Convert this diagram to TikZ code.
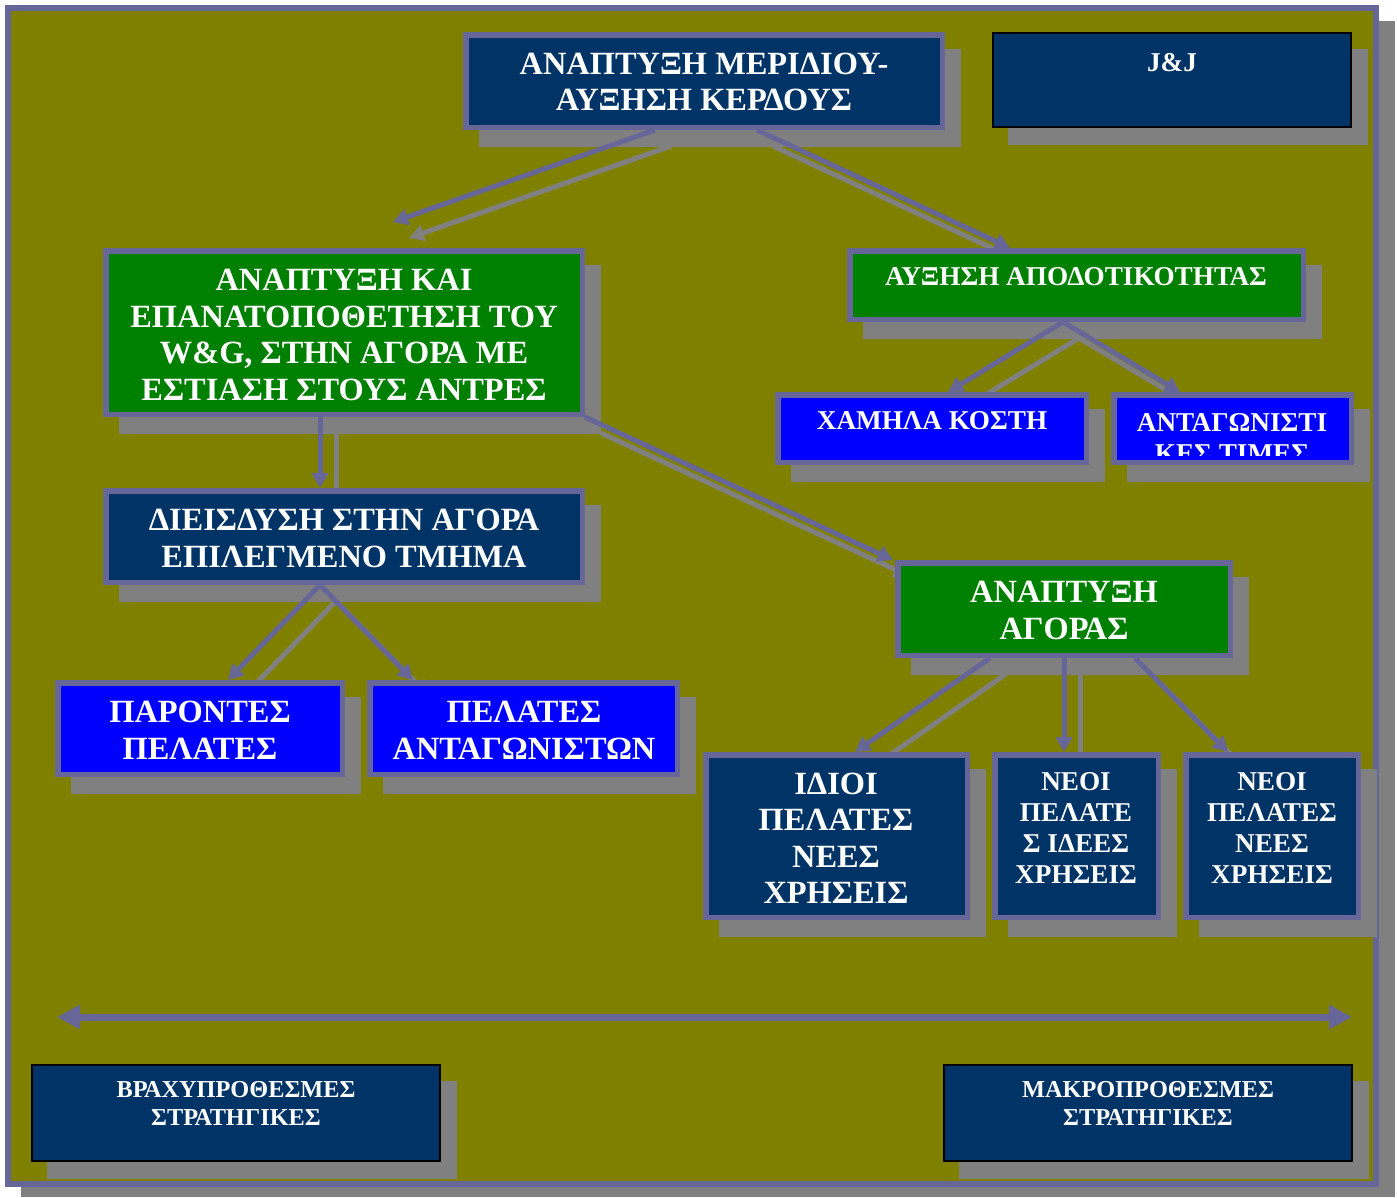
\documentclass[tikz,border=0pt]{standalone}
\usepackage{fontspec}
\setmainfont{Liberation Serif}
\usetikzlibrary{arrows.meta}

\definecolor{olivebg}{HTML}{808000}
\definecolor{navy}{HTML}{003366}
\definecolor{leaf}{HTML}{008000}
\definecolor{royal}{HTML}{0000FF}
\definecolor{lilac}{HTML}{666699}
\definecolor{dropgray}{HTML}{808080}

\pgfdeclarelayer{frame}
\pgfdeclarelayer{shadows}
\pgfdeclarelayer{links}
\pgfsetlayers{frame,shadows,links,main}

\tikzset{
  boxbase/.style={rectangle, inner sep=0pt, line width=5.5pt, draw=lilac},
  navybox/.style={boxbase, fill=navy},
  greenbox/.style={boxbase, fill=leaf},
  bluebox/.style={boxbase, fill=royal},
  plainbox/.style={rectangle, inner sep=0pt, line width=2pt, draw=black, fill=navy},
  bigtxt/.style={text=white, align=center, inner sep=0pt, font=\fontsize{32.4}{36.5}\selectfont\bfseries},
  midtxt/.style={text=white, align=center, inner sep=0pt, font=\fontsize{27.2}{31}\selectfont\bfseries},
  smalltxt/.style={text=white, align=center, inner sep=0pt, font=\fontsize{24.3}{28}\selectfont\bfseries},
  linkmain/.style={draw=lilac, line width=5pt, -{Triangle[length=15pt,width=16pt]}},
  linkshadow/.style={draw=dropgray, line width=5pt, -{Triangle[length=15pt,width=16pt]},
    transform canvas={xshift=16pt,yshift=-16pt}},
  spanarrow/.style={draw=lilac, line width=7pt,
    {Triangle[length=23pt,width=23pt]}-{Triangle[length=23pt,width=23pt]}},
}

% #1 name, #2 style, #3..#6 outer edges x1,y1,x2,y2, #7 border width
\newcommand\mkpanel[7]{%
  \begin{pgfonlayer}{shadows}
    \fill[dropgray] (#3+16,#4+17) rectangle (#5+16,#6+17);
  \end{pgfonlayer}
  \node[#2, minimum width={#5-#3-#7}, minimum height={#6-#4-#7}] (#1)
    at ({(#3+#5)/2},{(#4+#6)/2}) {};%
}

% connector with its drop shadow
\newcommand\joinboxes[2]{%
  \begin{pgfonlayer}{shadows}\draw[linkshadow] #1 -- #2;\end{pgfonlayer}%
  \begin{pgfonlayer}{links}\draw[linkmain] #1 -- #2;\end{pgfonlayer}%
}

\begin{document}
\begin{tikzpicture}[x=1pt,y=-1pt]
\useasboundingbox (0,0) rectangle (1397,1197);

% outer panel
\begin{pgfonlayer}{frame}
  \fill[dropgray] (21,21) rectangle (1395,1197);
  \draw[lilac, line width=6pt, fill=olivebg] (8,8) rectangle (1376,1184);
\end{pgfonlayer}

% boxes
\mkpanel{top}{navybox}{463}{32}{945}{130}{5.5}
\mkpanel{jj}{plainbox}{992}{32}{1352}{128}{2}
\mkpanel{g1}{greenbox}{103}{248}{585}{417}{5.5}
\mkpanel{g2}{greenbox}{847}{248}{1306}{322}{5.5}
\mkpanel{b1}{bluebox}{775}{392}{1089}{465}{5.5}
\mkpanel{b2}{bluebox}{1111}{392}{1354}{465}{5.5}
\mkpanel{n1}{navybox}{103}{488}{585}{585}{5.5}
\mkpanel{g3}{greenbox}{895}{560}{1233}{658}{5.5}
\mkpanel{b3}{bluebox}{55}{680}{345}{777}{5.5}
\mkpanel{b4}{bluebox}{367}{680}{680}{777}{5.5}
\mkpanel{n2}{navybox}{703}{752}{970}{920}{5.5}
\mkpanel{n3}{navybox}{992}{752}{1161}{920}{5.5}
\mkpanel{n4}{navybox}{1183}{752}{1361}{920}{5.5}
\mkpanel{s1}{plainbox}{31}{1064}{441}{1162}{2}
\mkpanel{s2}{plainbox}{943}{1064}{1353}{1162}{2}

% labels
\node[bigtxt] (top-t) at (704,82) {ΑΝΑΠΤΥΞΗ ΜΕΡΙΔΙΟΥ-\\ΑΥΞΗΣΗ ΚΕΡΔΟΥΣ};
\node[midtxt] (jj-t) at (1172,63) {J\&J};
\node[bigtxt] (g1-t) at (344,335) {ΑΝΑΠΤΥΞΗ ΚΑΙ\\ΕΠΑΝΑΤΟΠΟΘΕΤΗΣΗ ΤΟΥ\\W\&G, ΣΤΗΝ ΑΓΟΡΑ ΜΕ\\ΕΣΤΙΑΣΗ ΣΤΟΥΣ ΑΝΤΡΕΣ};
\node[midtxt] (g2-t) at (1076,277) {ΑΥΞΗΣΗ ΑΠΟΔΟΤΙΚΟΤΗΤΑΣ};
\node[midtxt] (b1-t) at (932,421) {ΧΑΜΗΛΑ ΚΟΣΤΗ};
\begin{scope}
  % the second line runs past the text area and is cut off
  \clip ([xshift=5.5pt,yshift=-5.5pt]b2.north west) rectangle ([xshift=-5.5pt,yshift=10pt]b2.south east);
  \node[midtxt] (b2-t) at (1232,438) {ΑΝΤΑΓΩΝΙΣΤΙ\\ΚΕΣ ΤΙΜΕΣ};
\end{scope}
\node[bigtxt] (n1-t) at (344,538.5) {ΔΙΕΙΣΔΥΣΗ ΣΤΗΝ ΑΓΟΡΑ\\ΕΠΙΛΕΓΜΕΝΟ ΤΜΗΜΑ};
\node[bigtxt] (g3-t) at (1064,610.5) {ΑΝΑΠΤΥΞΗ\\ΑΓΟΡΑΣ};
\node[bigtxt] (b3-t) at (200,730.5) {ΠΑΡΟΝΤΕΣ\\ΠΕΛΑΤΕΣ};
\node[bigtxt] (b4-t) at (524,730.5) {ΠΕΛΑΤΕΣ\\ΑΝΤΑΓΩΝΙΣΤΩΝ};
\node[bigtxt] (n2-t) at (836,838.5) {ΙΔΙΟΙ\\ΠΕΛΑΤΕΣ\\ΝΕΕΣ\\ΧΡΗΣΕΙΣ};
\node[midtxt] (n3-t) at (1076,827.5) {ΝΕΟΙ\\ΠΕΛΑΤΕ\\Σ ΙΔΕΕΣ\\ΧΡΗΣΕΙΣ};
\node[midtxt] (n4-t) at (1272,827.5) {ΝΕΟΙ\\ΠΕΛΑΤΕΣ\\ΝΕΕΣ\\ΧΡΗΣΕΙΣ};
\node[smalltxt] (s1-t) at (236,1103) {ΒΡΑΧΥΠΡΟΘΕΣΜΕΣ\\ΣΤΡΑΤΗΓΙΚΕΣ};
\node[smalltxt] (s2-t) at (1148,1103) {ΜΑΚΡΟΠΡΟΘΕΣΜΕΣ\\ΣΤΡΑΤΗΓΙΚΕΣ};

% connectors
\joinboxes{([xshift=-49pt]top.south)}{([xshift=49pt,yshift=26pt]g1.north)}
\joinboxes{([xshift=53pt]top.south)}{([xshift=-66.5pt]g2.north)}
\joinboxes{([xshift=-24pt]g1.south)}{([xshift=-24pt]n1.north)}
\joinboxes{(g1.south east)}{([xshift=-2pt]g3.north west)}
\joinboxes{([xshift=-13.5pt]g2.south)}{([xshift=16pt]b1.north)}
\joinboxes{([xshift=-13.5pt]g2.south)}{([xshift=-52.5pt]b2.north)}
\joinboxes{([xshift=-24pt]n1.south)}{([xshift=28pt]b3.north)}
\joinboxes{([xshift=-24pt]n1.south)}{([xshift=-110.5pt]b4.north)}
\joinboxes{([xshift=-74pt]g3.south)}{([xshift=18.5pt]n2.north)}
\joinboxes{(g3.south)}{([xshift=-12.5pt]n3.north)}
\joinboxes{([xshift=71pt]g3.south)}{([xshift=-44pt]n4.north)}

% time axis
\coordinate (span-l) at (57,1017);
\coordinate (span-r) at (1352,1017);
\draw[spanarrow] (span-l) -- (span-r);
\end{tikzpicture}
\end{document}
